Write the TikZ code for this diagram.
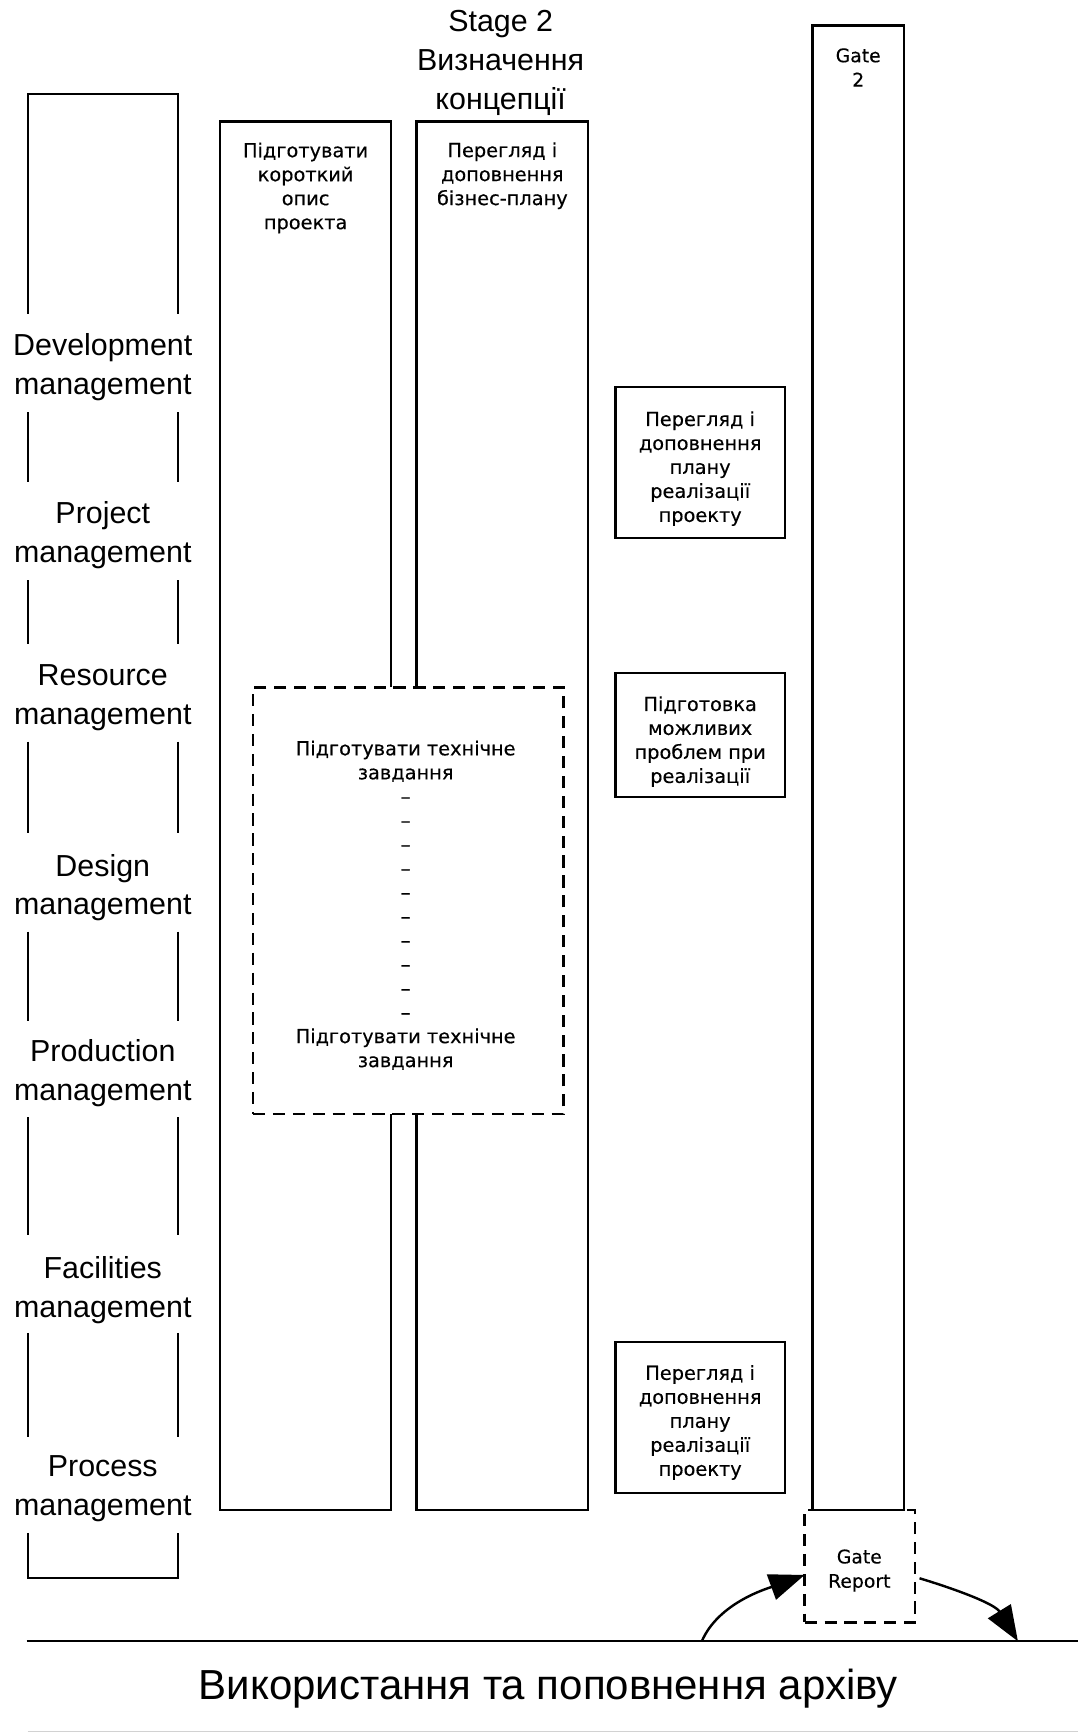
\documentclass[tikz,border=0pt]{standalone}
\usepackage{fontspec}
\setmainfont{Liberation Sans}
\newfontfamily\smallfont[FakeBold=0.3]{DejaVu Sans}
\usetikzlibrary{arrows.meta}
\begin{document}
\begin{tikzpicture}[x=1pt,y=-1pt,
  colbox/.style={draw, line width=2.2pt, inner sep=0pt, outer sep=0pt, anchor=north west},
  dashbox/.style={draw, line width=2.2pt, dash pattern=on 11pt off 7pt, inner sep=0pt, outer sep=0pt, anchor=north west},
  smalltxt/.style={font=\smallfont\fontsize{17.5}{21.7}\selectfont, align=center, inner sep=0pt},
  gatetxt/.style={font=\smallfont\fontsize{17}{22}\selectfont, align=center, inner sep=0pt},
  bigtxt/.style={font=\fontsize{27.5}{35}\selectfont, align=center, inner sep=0pt},
  brk/.style={line width=1.9pt},
  arrowline/.style={line width=2.2pt, -{Triangle[length=32pt,width=24pt]}}
]
\useasboundingbox (0,0) rectangle (977,1568);
\fill[white] (0,0) rectangle (977,1568);

% title
\node[bigtxt] (stage) at (453,57) {Stage 2\\Визначення\\концепції};

% left bracket with lane labels
\draw[brk] (25,284) -- (25,85) -- (161,85) -- (161,284);
\foreach \a/\b in {373/436, 525/583, 671/754, 843/924, 1011/1117, 1206/1300} {
  \draw[brk] (25,\a) -- (25,\b);
  \draw[brk] (161,\a) -- (161,\b);
}
\draw[brk] (25,1387) -- (25,1428) -- (161,1428) -- (161,1387);
\node[bigtxt] (l1) at (93,332) {Development\\management};
\node[bigtxt] (l2) at (93,484) {Project\\management};
\node[bigtxt] (l3) at (93,631) {Resource\\management};
\node[bigtxt] (l4) at (93,803) {Design\\management};
\node[bigtxt] (l5) at (93,971) {Production\\management};
\node[bigtxt] (l6) at (93,1167) {Facilities\\management};
\node[bigtxt] (l7) at (93,1347) {Process\\management};

% stage columns
\node[colbox, minimum width=155, minimum height=1256] (colA) at (199,110) {};
\node[colbox, minimum width=155, minimum height=1256] (colB) at (377,110) {};
\node[smalltxt] (tA) at (276.5,170) {Підготувати\\короткий\\опис\\проекта};
\node[smalltxt] (tB) at (454.5,159) {Перегляд і\\доповнення\\бізнес-плану};

% technical task dashed box
\node[dashbox, fill=white, minimum width=281, minimum height=386] (tz) at (229,622) {};
\node[smalltxt] (tzt) at (367,819) {Підготувати технічне\\завдання\\–\\–\\–\\–\\–\\–\\–\\–\\–\\–\\Підготувати технічне\\завдання};

% right boxes
\node[colbox, minimum width=153, minimum height=137] (r1) at (557,350) {};
\node[smalltxt] (r1t) at (633.5,424) {Перегляд і\\доповнення\\плану\\реалізації\\проекту};
\node[colbox, minimum width=153, minimum height=112] (r2) at (557,609) {};
\node[smalltxt] (r2t) at (633.5,671) {Підготовка\\можливих\\проблем при\\реалізації};
\node[colbox, minimum width=153, minimum height=137] (r3) at (557,1214) {};
\node[smalltxt] (r3t) at (633.5,1287) {Перегляд і\\доповнення\\плану\\реалізації\\проекту};

% gate
\node[dashbox, minimum width=100, minimum height=102] (grep) at (728,1366) {};
\node[colbox, minimum width=83, minimum height=1343] (gate) at (735,23) {};
\node[gatetxt] (gatet) at (776.5,61) {Gate\\2};
\node[gatetxt] (grept) at (777.5,1421) {Gate\\Report};

% archive line
\draw[line width=2pt] (24,1485) coordinate (arcL) -- (975,1485) coordinate (arcR);
\coordinate (a1) at (635,1485);
\coordinate (a2) at (921,1485);
\draw[arrowline] (a1) .. controls (650,1450) and (695,1437) .. ([yshift=-8pt]grep.west);
\draw[arrowline] ([xshift=4pt,yshift=-11pt]grep.east) .. controls (865,1438) and (900,1451) .. (a2);
\node[font=\fontsize{38}{42}\selectfont, inner sep=0pt] (arch) at (496,1528) {Використання та поповнення архіву};
\draw[gray!35, line width=1pt] (25,1566.5) -- (975,1566.5);
\end{tikzpicture}
\end{document}
